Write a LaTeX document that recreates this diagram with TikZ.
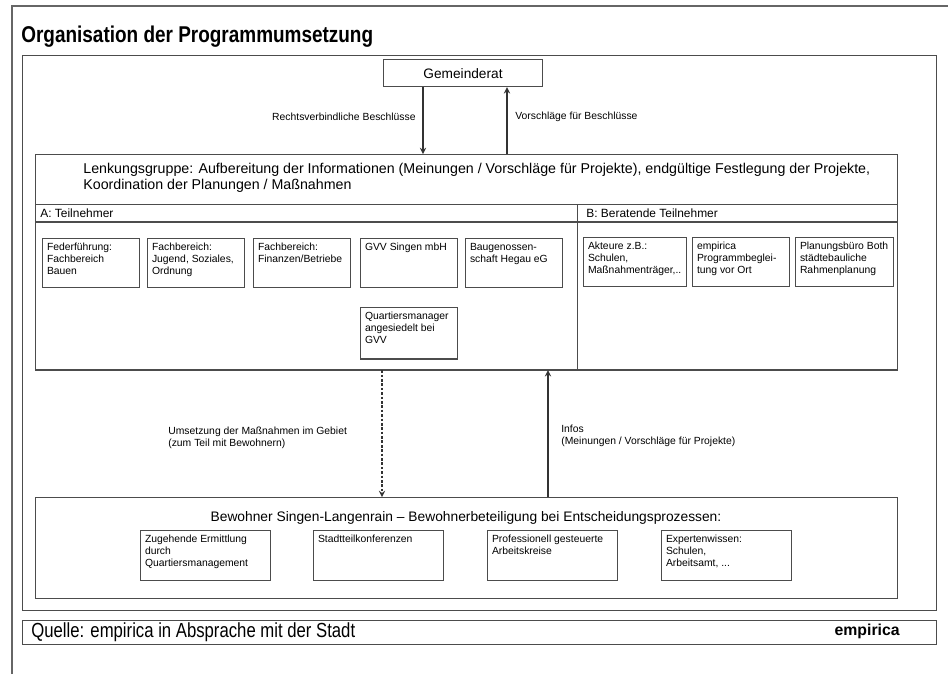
\documentclass[tikz,border=0pt]{standalone}
\usepackage{fontspec}
\setmainfont{Liberation Sans}
\usetikzlibrary{arrows}
\tikzset{>=stealth,
  frame/.style={draw=black!70,line width=0.7pt,anchor=north west,inner sep=0pt},
  unit/.style={draw=black!70,line width=0.7pt,anchor=north west,inner sep=2.5pt,
    font=\fontsize{5.9}{6.9}\selectfont},
  note/.style={font=\fontsize{5.9}{6.9}\selectfont,align=left,inner sep=0pt},
  flow/.style={->,line width=0.6pt,black!80}}
\newcommand{\cell}[3]{\parbox[t][#2][t]{#1}{\raggedright #3}}

\begin{document}
\begin{tikzpicture}[x=0.02cm,y=-0.02cm]
\useasboundingbox (0,0) rectangle (948,674);
\draw[black!60,line width=0.6pt] (12,674) -- (12,6) -- (948,6);
\node[anchor=west,inner sep=0pt] (title) at (21,37)
  {\scalebox{0.83}[1]{\fontsize{13}{15}\selectfont\bfseries Organisation der Programmumsetzung}};
\node[frame,minimum width=18.28cm,minimum height=11.1cm] (main) at (22,55) {};

% Gemeinderat
\node[frame,minimum width=3.18cm,minimum height=0.54cm,anchor=north,
  font=\fontsize{7.8}{9}\selectfont] (rat) at (463,59) {Gemeinderat};

% Lenkungsgruppe
\node[frame,minimum width=17.24cm,minimum height=4.3cm] (lenk) at (35,154) {};
\node[anchor=north west,inner sep=0pt,align=left,font=\fontsize{8.1}{9}\selectfont] (lenktext) at (83,163)
  {Lenkungsgruppe: Aufbereitung der Informationen (Meinungen / Vorschläge für Projekte), endgültige Festlegung der Projekte,\\
   Koordination der Planungen / Maßnahmen};
\node[frame,minimum width=10.84cm,minimum height=3.32cm] (teilA) at (35,204) {};
\node[frame,minimum width=6.4cm,minimum height=3.32cm] (teilB) at (577,204) {};
\draw[black!70,line width=0.7pt] (teilA.west |- 0,222) -- (teilB.east |- 0,222);
\node[anchor=west,inner sep=0pt,font=\fontsize{6.8}{8}\selectfont] (headA) at (40,213) {A: Teilnehmer};
\node[anchor=west,inner sep=0pt,font=\fontsize{6.8}{8}\selectfont] (headB) at (586,213) {B: Beratende Teilnehmer};

\node[unit] (feder) at (42,238) {\cell{1.76cm}{0.8cm}{Federführung:\\ Fachbereich\\ Bauen}};
\node[unit] (jugend) at (147,238) {\cell{1.76cm}{0.8cm}{Fachbereich:\\ Jugend, Soziales,\\ Ordnung}};
\node[unit] (finanz) at (253,238) {\cell{1.76cm}{0.8cm}{Fachbereich:\\ Finanzen/Betriebe}};
\node[unit] (gvv) at (360,238) {\cell{1.76cm}{0.8cm}{GVV Singen mbH}};
\node[unit] (baugen) at (465,238) {\cell{1.76cm}{0.8cm}{Baugenossen-\\ schaft Hegau eG}};
\node[unit] (quartier) at (360,307) {\cell{1.76cm}{0.85cm}{Quartiersmanager\\ angesiedelt bei\\ GVV}};

\node[unit] (akteure) at (583,237) {\cell{1.88cm}{0.8cm}{Akteure z.B.:\\ Schulen,\\ Maßnahmenträger,..}};
\node[unit] (empir) at (692,237) {\cell{1.76cm}{0.8cm}{empirica\\ Programmbeglei-\\ tung vor Ort}};
\node[unit] (planung) at (795,237) {\cell{1.78cm}{0.8cm}{Planungsbüro Both\\ städtebauliche\\ Rahmenplanung}};

% Bewohner
\node[frame,minimum width=17.24cm,minimum height=2.02cm] (bewohner) at (35,497) {};
\node[inner sep=0pt,font=\fontsize{7.85}{9}\selectfont] (bewtext) at (466,518)
  {Bewohner Singen-Langenrain -- Bewohnerbeteiligung bei Entscheidungsprozessen:};
\node[unit] (zugehend) at (140,530) {\cell{2.42cm}{0.82cm}{Zugehende Ermittlung\\ durch\\ Quartiersmanagement}};
\node[unit] (stadtteil) at (313,530) {\cell{2.42cm}{0.82cm}{Stadtteilkonferenzen}};
\node[unit] (arbeit) at (487,530) {\cell{2.42cm}{0.82cm}{Professionell gesteuerte\\ Arbeitskreise}};
\node[unit] (experte) at (661,530) {\cell{2.42cm}{0.82cm}{Expertenwissen:\\ Schulen,\\ Arbeitsamt, ...}};

% Verbindungen
\path[flow] (rat.south -| 423,0) edge (lenk.north -| 423,0);
\path[flow] (lenk.north -| 507,0) edge (rat.south -| 507,0);
\node[note,anchor=east] (beschl) at (416,117) {Rechtsverbindliche Beschlüsse};
\node[note,anchor=west] (vorschl) at (515,117) {Vorschläge für Beschlüsse};
\path[flow] (lenk.south -| 382,0) edge[dash pattern=on 1.5pt off 1pt] (bewohner.north -| 382,0);
\path[flow] (bewohner.north -| 548,0) edge (lenk.south -| 548,0);
\node[note,anchor=west] (umsetz) at (168,438) {Umsetzung der Maßnahmen im Gebiet\\ (zum Teil mit Bewohnern)};
\node[note,anchor=west] (infos) at (561,436) {Infos\\ (Meinungen / Vorschläge für Projekte)};

% Quelle
\node[frame,minimum width=18.28cm,minimum height=0.48cm] (quelle) at (22,620) {};
\node[anchor=west,inner sep=0pt] (quelletext) at (31,632)
  {\scalebox{0.82}[1]{\fontsize{11.6}{13}\selectfont Quelle: empirica in Absprache mit der Stadt}};
\node[anchor=east,inner sep=0pt,font=\fontsize{9}{11}\selectfont\bfseries] (logo) at (900,631) {empirica};
\end{tikzpicture}
\end{document}
